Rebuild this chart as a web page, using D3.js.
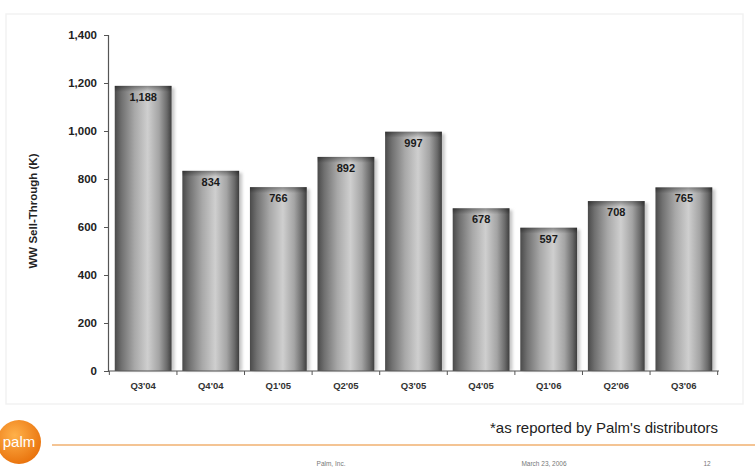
<!DOCTYPE html>
<html>
<head>
<meta charset="utf-8">
<script src="https://cdn.jsdelivr.net/npm/d3@7"></script>
<style>
  html, body { margin: 0; padding: 0; background: #fff; }
  svg { display: block; }
</style>
</head>
<body>
<svg id="chart" width="755" height="473"></svg>
<script>
// Quarterly worldwide sell-through, thousands of units
const quarters = ["Q3'04", "Q4'04", "Q1'05", "Q2'05", "Q3'05", "Q4'05", "Q1'06", "Q2'06", "Q3'06"];
const sellThrough = [1188, 834, 766, 892, 997, 678, 597, 708, 765];
const yTicks = [0, 200, 400, 600, 800, 1000, 1200, 1400];

const svg = d3.select("#chart");
const W = 755, H = 473;
const margin = { left: 108, right: 36, top: 35, bottom: 102 };

const x = d3.scaleBand()
  .domain(quarters)
  .range([margin.left, W - margin.right])
  .paddingInner(0.16)
  .paddingOuter(0.1);

const y = d3.scaleLinear()
  .domain([0, 1400])
  .range([H - margin.bottom, margin.top]);

// Cylinder shading for bars
const defs = svg.append("defs");
const grad = defs.append("linearGradient").attr("id", "barShade")
  .attr("x1", "0%").attr("x2", "100%").attr("y1", "0%").attr("y2", "0%");
[
  [0, "#4a4a4a"], [0.12, "#707070"], [0.35, "#a8a8a8"], [0.58, "#cfcfcf"],
  [0.78, "#a4a4a4"], [0.92, "#6a6a6a"], [1, "#3e3e3e"]
].forEach(([o, c]) => grad.append("stop").attr("offset", o).attr("stop-color", c));

const topGrad = defs.append("linearGradient").attr("id", "topShade")
  .attr("x1", "0%").attr("x2", "0%").attr("y1", "0%").attr("y2", "100%");
topGrad.append("stop").attr("offset", 0).attr("stop-color", "#000").attr("stop-opacity", 0.35);
topGrad.append("stop").attr("offset", 1).attr("stop-color", "#000").attr("stop-opacity", 0);

const blur = defs.append("filter").attr("id", "soft").attr("x", "-20%").attr("width", "140%");
blur.append("feGaussianBlur").attr("stdDeviation", 1.5);

// Faint slide panel
svg.append("rect")
  .attr("x", 6).attr("y", 14).attr("width", 737).attr("height", 390)
  .attr("fill", "none").attr("stroke", "#f2f2f2").attr("stroke-width", 1.5);

// Bar shadows
svg.append("g").selectAll("rect")
  .data(sellThrough)
  .join("rect")
  .attr("x", (d, i) => x(quarters[i]) + 3)
  .attr("y", d => y(d) + 2)
  .attr("width", x.bandwidth())
  .attr("height", d => y(0) - y(d) - 2)
  .attr("fill", "#c8c8c8")
  .attr("filter", "url(#soft)");

// Bars
const bars = svg.append("g");
bars.selectAll("rect.bar")
  .data(sellThrough)
  .join("rect")
  .attr("class", "bar")
  .attr("x", (d, i) => x(quarters[i]))
  .attr("y", d => y(d))
  .attr("width", x.bandwidth())
  .attr("height", d => y(0) - y(d))
  .attr("fill", "url(#barShade)");

bars.selectAll("rect.top")
  .data(sellThrough)
  .join("rect")
  .attr("class", "top")
  .attr("x", (d, i) => x(quarters[i]))
  .attr("y", d => y(d))
  .attr("width", x.bandwidth())
  .attr("height", 6)
  .attr("fill", "url(#topShade)");

// Value labels inside bar tops
svg.append("g").selectAll("text")
  .data(sellThrough)
  .join("text")
  .attr("x", (d, i) => x(quarters[i]) + x.bandwidth() / 2)
  .attr("y", d => y(d) + 15)
  .attr("text-anchor", "middle")
  .attr("font-family", "Liberation Sans, Arial, sans-serif")
  .attr("font-weight", "bold")
  .attr("font-size", 11)
  .attr("fill", "#1a1a1a")
  .text(d => d3.format(",")(d));

// Y axis
const yAxis = svg.append("g")
  .attr("transform", `translate(${margin.left},0)`)
  .call(d3.axisLeft(y).tickValues(yTicks).tickFormat(d3.format(",")).tickSize(4).tickPadding(7));
yAxis.select(".domain").attr("stroke", "#555").attr("stroke-width", 1.2);
yAxis.selectAll(".tick line").attr("stroke", "#555");
yAxis.selectAll("text")
  .attr("font-family", "Liberation Sans, Arial, sans-serif")
  .attr("font-weight", "bold")
  .attr("font-size", 11.5)
  .attr("fill", "#222");

// X axis with ticks at category boundaries
const xAxisG = svg.append("g").attr("transform", `translate(0,${y(0)})`);
xAxisG.append("line")
  .attr("x1", margin.left).attr("x2", W - margin.right)
  .attr("stroke", "#555").attr("stroke-width", 1.2);
const step = x.step();
const boundaries = quarters.map(q => x(q) - step * x.paddingInner() / 2)
  .concat([x(quarters[quarters.length - 1]) + x.bandwidth() + step * x.paddingInner() / 2]);
xAxisG.selectAll("line.tk")
  .data(boundaries)
  .join("line")
  .attr("class", "tk")
  .attr("x1", d => d).attr("x2", d => d)
  .attr("y1", 0).attr("y2", 4)
  .attr("stroke", "#555");
xAxisG.selectAll("text")
  .data(quarters)
  .join("text")
  .attr("x", d => x(d) + x.bandwidth() / 2)
  .attr("y", 18)
  .attr("text-anchor", "middle")
  .attr("font-family", "Liberation Sans, Arial, sans-serif")
  .attr("font-weight", "bold")
  .attr("font-size", 9.5)
  .attr("fill", "#333")
  .text(d => d);

// Y axis title
svg.append("text")
  .attr("transform", `translate(37,${(y(0) + y(1400)) / 2 + 8}) rotate(-90)`)
  .attr("text-anchor", "middle")
  .attr("font-family", "Liberation Sans, Arial, sans-serif")
  .attr("font-weight", "bold")
  .attr("font-size", 11.5)
  .attr("fill", "#222")
  .text("WW Sell-Through (K)");

// Footnote
svg.append("text")
  .attr("x", 718).attr("y", 433)
  .attr("text-anchor", "end")
  .attr("font-family", "Liberation Sans, Arial, sans-serif")
  .attr("font-size", 15)
  .attr("fill", "#222")
  .text("*as reported by Palm's distributors");

// Footer rule
svg.append("line")
  .attr("x1", 52).attr("x2", 755).attr("y1", 445).attr("y2", 445)
  .attr("stroke", "#f0b070").attr("stroke-width", 1.5);

// Palm logo
const logoGrad = defs.append("radialGradient").attr("id", "logoShade")
  .attr("cx", "40%").attr("cy", "35%").attr("r", "70%");
logoGrad.append("stop").attr("offset", 0).attr("stop-color", "#ffb14a");
logoGrad.append("stop").attr("offset", 1).attr("stop-color", "#e8700a");
svg.append("circle")
  .attr("cx", 19).attr("cy", 442).attr("r", 22)
  .attr("fill", "url(#logoShade)");
svg.append("text")
  .attr("x", 19).attr("y", 447)
  .attr("text-anchor", "middle")
  .attr("font-family", "Liberation Sans, Arial, sans-serif")
  .attr("font-size", 15)
  .attr("fill", "#fff")
  .text("palm");

// Footer small print
const foot = [["Palm, Inc.", 331], ["March 23, 2006", 544], ["12", 707]];
svg.append("g").selectAll("text")
  .data(foot)
  .join("text")
  .attr("x", d => d[1]).attr("y", 466)
  .attr("text-anchor", "middle")
  .attr("font-family", "Liberation Sans, Arial, sans-serif")
  .attr("font-size", 6.5)
  .attr("fill", "#777")
  .text(d => d[0]);
</script>
</body>
</html>
